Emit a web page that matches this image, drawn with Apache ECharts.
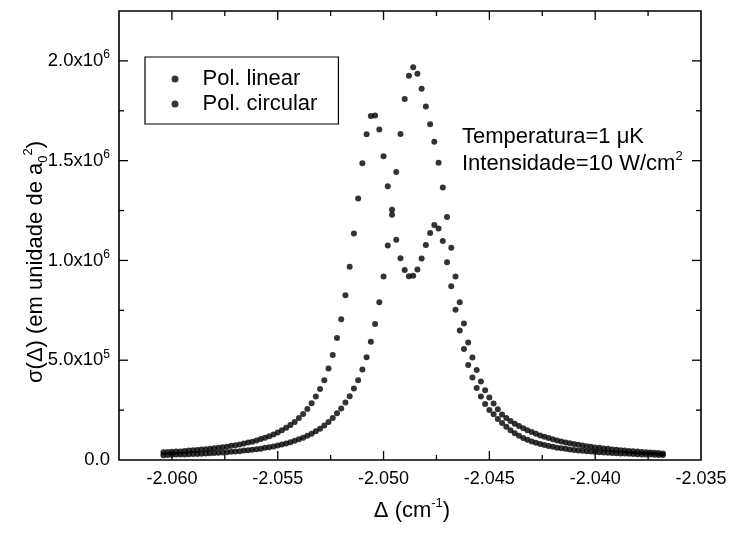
<!DOCTYPE html>
<html>
<head>
<meta charset="utf-8">
<script src="https://cdn.jsdelivr.net/npm/echarts@6/dist/echarts.min.js"></script>
<style>
  html, body { margin: 0; padding: 0; background: #fff; }
  #chart { width: 733px; height: 533px; }
</style>
</head>
<body>
<div id="chart"></div>
<script>
// Detuning grid Δ (cm^-1), shared by both polarizations
const delta = [
  -2.0604,-2.0602,-2.0600,-2.0598,-2.0596,-2.0594,-2.0592,-2.0590,-2.0588,-2.0586,
  -2.0584,-2.0582,-2.0580,-2.0578,-2.0576,-2.0574,-2.0572,-2.0570,-2.0568,-2.0566,
  -2.0564,-2.0562,-2.0560,-2.0558,-2.0556,-2.0554,-2.0552,-2.0550,-2.0548,-2.0546,
  -2.0544,-2.0542,-2.0540,-2.0538,-2.0536,-2.0534,-2.0532,-2.0530,-2.0528,-2.0526,
  -2.0524,-2.0522,-2.0520,-2.0518,-2.0516,-2.0514,-2.0512,-2.0510,-2.0508,-2.0506,
  -2.0504,-2.0502,-2.0500,-2.0498,-2.0496,-2.0494,-2.0492,-2.0490,-2.0488,-2.0486,
  -2.0484,-2.0482,-2.0480,-2.0478,-2.0476,-2.0474,-2.0472,-2.0470,-2.0468,-2.0466,
  -2.0464,-2.0462,-2.0460,-2.0458,-2.0456,-2.0454,-2.0452,-2.0450,-2.0448,-2.0446,
  -2.0444,-2.0442,-2.0440,-2.0438,-2.0436,-2.0434,-2.0432,-2.0430,-2.0428,-2.0426,
  -2.0424,-2.0422,-2.0420,-2.0418,-2.0416,-2.0414,-2.0412,-2.0410,-2.0408,-2.0406,
  -2.0404,-2.0402,-2.0400,-2.0398,-2.0396,-2.0394,-2.0392,-2.0390,-2.0388,-2.0386,
  -2.0384,-2.0382,-2.0380,-2.0378,-2.0376,-2.0374,-2.0372,-2.0370,-2.0368
];

// Cross section σ(Δ), in units of 10^6 a0^2 — linear polarization (two peaks)
const sigmaLinear = [
  0.039,0.040,0.041,0.042,0.043,0.045,0.047,0.049,0.050,0.052,
  0.054,0.056,0.059,0.061,0.064,0.067,0.071,0.074,0.078,0.083,
  0.088,0.092,0.098,0.105,0.112,0.119,0.128,0.138,0.149,0.161,
  0.175,0.191,0.210,0.230,0.255,0.284,0.318,0.356,0.400,0.459,
  0.526,0.611,0.705,0.826,0.968,1.135,1.310,1.487,1.632,1.724,
  1.726,1.656,1.522,1.372,1.229,1.104,1.011,0.952,0.921,0.923,
  0.955,1.010,1.077,1.137,1.177,1.160,1.097,0.991,0.871,0.753,
  0.649,0.556,0.476,0.414,0.361,0.318,0.280,0.251,0.229,0.206,
  0.185,0.166,0.149,0.134,0.121,0.110,0.101,0.093,0.086,0.080,
  0.075,0.070,0.066,0.062,0.059,0.056,0.053,0.050,0.048,0.046,
  0.044,0.042,0.040,0.039,0.037,0.036,0.035,0.034,0.033,0.032,
  0.031,0.030,0.029,0.028,0.027,0.027,0.026,0.025,0.025
];

// Cross section σ(Δ), in units of 10^6 a0^2 — circular polarization (single peak)
const sigmaCircular = [
  0.024,0.025,0.026,0.027,0.027,0.028,0.029,0.030,0.030,0.031,
  0.032,0.034,0.035,0.036,0.037,0.039,0.041,0.042,0.044,0.047,
  0.049,0.051,0.054,0.057,0.061,0.064,0.068,0.073,0.078,0.083,
  0.089,0.096,0.104,0.111,0.121,0.132,0.144,0.157,0.173,0.190,
  0.210,0.234,0.258,0.288,0.319,0.358,0.400,0.453,0.515,0.592,
  0.681,0.790,0.920,1.075,1.254,1.443,1.634,1.809,1.925,1.968,
  1.935,1.860,1.771,1.682,1.595,1.489,1.366,1.218,1.063,0.919,
  0.791,0.684,0.589,0.514,0.451,0.393,0.350,0.313,0.283,0.254,
  0.228,0.211,0.196,0.182,0.170,0.159,0.149,0.140,0.131,0.123,
  0.116,0.110,0.104,0.098,0.093,0.088,0.084,0.080,0.076,0.073,
  0.069,0.066,0.063,0.061,0.058,0.056,0.053,0.051,0.049,0.047,
  0.045,0.044,0.042,0.040,0.039,0.037,0.036,0.035,0.033
];
const SIGMA_UNIT = 1e6;

const seriesNames = ['Pol. linear', 'Pol. circular'];

// Axis ranges and tick values
const xRange = [-2.0625, -2.035];
const yRange = [0, 2.25e6];
const xMajorTicks = [-2.060, -2.055, -2.050, -2.045, -2.040];
const xMinorTicks = [-2.0575, -2.0525, -2.0475, -2.0425, -2.0375];
const yMajorTicks = [0.5e6, 1.0e6, 1.5e6, 2.0e6];
const yMinorTicks = [0.25e6, 0.75e6, 1.25e6, 1.75e6];

const FONT = '"Liberation Sans", Arial, Helvetica, sans-serif';

function pairs(xs, ys) {
  return xs.map((x, i) => [x, ys[i] * SIGMA_UNIT]);
}

// Inward ticks on both sides of the frame
function xTickRenderer(len) {
  return function (params, api) {
    const cs = params.coordSys;
    const x = api.coord([api.value(0), 0])[0];
    const bottom = cs.y + cs.height;
    const st = { stroke: '#000', lineWidth: 1.3 };
    return {
      type: 'group',
      children: [
        { type: 'line', shape: { x1: x, y1: bottom, x2: x, y2: bottom - len }, style: st },
        { type: 'line', shape: { x1: x, y1: cs.y, x2: x, y2: cs.y + len }, style: st }
      ]
    };
  };
}
function yTickRenderer(len) {
  return function (params, api) {
    const cs = params.coordSys;
    const y = api.coord([xRange[0], api.value(1)])[1];
    const right = cs.x + cs.width;
    const st = { stroke: '#000', lineWidth: 1.3 };
    return {
      type: 'group',
      children: [
        { type: 'line', shape: { x1: cs.x, y1: y, x2: cs.x + len, y2: y }, style: st },
        { type: 'line', shape: { x1: right, y1: y, x2: right - len, y2: y }, style: st }
      ]
    };
  };
}
function tickSeries(data, renderer) {
  return {
    type: 'custom', silent: true, z: 5, animation: false,
    renderItem: renderer, data: data, encode: { x: 0, y: 1 }
  };
}

const SUPERSCRIPT = { fontSize: 12, lineHeight: 12, verticalAlign: 'top', fontFamily: FONT, color: '#000' };

const chart = echarts.init(document.getElementById('chart'), null, { renderer: 'canvas' });

chart.setOption({
  animation: false,
  backgroundColor: '#fff',
  textStyle: { fontFamily: FONT, color: '#000' },
  grid: {
    left: 119, right: 32, top: 11, bottom: 73,
    show: true, borderColor: '#000', borderWidth: 1.6, backgroundColor: 'transparent'
  },
  legend: {
    orient: 'vertical',
    left: 145, top: 57,
    data: seriesNames,
    icon: 'circle',
    itemWidth: 45, itemHeight: 7, itemGap: 3,
    padding: [11, 21, 9, 26.5],
    borderColor: '#000', borderWidth: 1.2,
    selectedMode: false,
    textStyle: { fontSize: 22, fontFamily: FONT, color: '#000' }
  },
  xAxis: {
    type: 'value',
    min: xRange[0], max: xRange[1], interval: 0.0025,
    axisLine: { show: false },
    axisTick: { show: false },
    splitLine: { show: false },
    axisLabel: {
      margin: 10,
      fontSize: 18, color: '#000', fontFamily: FONT,
      showMinLabel: true, showMaxLabel: true,
      formatter: function (v) {
        const k = v * 200;
        return Math.abs(k - Math.round(k)) < 1e-6 ? v.toFixed(3) : '';
      }
    }
  },
  yAxis: {
    type: 'value',
    min: yRange[0], max: yRange[1], interval: 2.5e5,
    axisLine: { show: false },
    axisTick: { show: false },
    splitLine: { show: false },
    axisLabel: {
      margin: 9,
      color: '#000',
      formatter: function (v) {
        const k = v / 5e5;
        if (Math.abs(k - Math.round(k)) > 1e-6) return '';
        if (v === 0) return '{m|0.0}';
        const e = Math.floor(Math.log10(v) + 1e-9);
        const m = v / Math.pow(10, e);
        return '{m|' + m.toFixed(1) + 'x10}{e|' + e + '}';
      },
      rich: {
        m: { fontSize: 18.5, lineHeight: 24, fontFamily: FONT, color: '#000' },
        e: SUPERSCRIPT
      }
    }
  },
  graphic: [
    {
      type: 'text', x: 36, y: 262, rotation: Math.PI / 2,
      style: {
        text: 'σ(Δ) (em unidade de a{sb|0}{sp|2})',
        fontSize: 22, lineHeight: 28, fontFamily: FONT, fill: '#000',
        align: 'center', verticalAlign: 'middle',
        rich: {
          sb: { fontSize: 13, lineHeight: 13, verticalAlign: 'bottom', fontFamily: FONT, color: '#000' },
          sp: { fontSize: 13, lineHeight: 13, verticalAlign: 'top', fontFamily: FONT, color: '#000' }
        }
      }
    },
    {
      type: 'text', x: 412, y: 511,
      style: {
        text: 'Δ (cm{sp|-1})',
        fontSize: 22, lineHeight: 28, fontFamily: FONT, fill: '#000',
        align: 'center', verticalAlign: 'middle',
        rich: {
          sp: { fontSize: 13, lineHeight: 13, verticalAlign: 'top', fontFamily: FONT, color: '#000' }
        }
      }
    },
    {
      type: 'text', x: 462, y: 137,
      style: {
        text: 'Temperatura=1 μK',
        fontSize: 22, fontFamily: FONT, fill: '#000',
        align: 'left', verticalAlign: 'middle'
      }
    },
    {
      type: 'text', x: 462, y: 164,
      style: {
        text: 'Intensidade=10 W/cm{sp|2}',
        fontSize: 22, lineHeight: 28, fontFamily: FONT, fill: '#000',
        align: 'left', verticalAlign: 'middle',
        rich: {
          sp: { fontSize: 13, lineHeight: 13, verticalAlign: 'top', fontFamily: FONT, color: '#000' }
        }
      }
    }
  ],
  series: [
    {
      name: seriesNames[0], type: 'scatter',
      symbol: 'circle', symbolSize: 6,
      itemStyle: { color: '#000' },
      data: pairs(delta, sigmaLinear), z: 3
    },
    {
      name: seriesNames[1], type: 'scatter',
      symbol: 'circle', symbolSize: 6,
      itemStyle: { color: '#000' },
      data: pairs(delta, sigmaCircular), z: 3
    },
    tickSeries(xMajorTicks.map(v => [v, 0]), xTickRenderer(9)),
    tickSeries(xMinorTicks.map(v => [v, 0]), xTickRenderer(5)),
    tickSeries(yMajorTicks.map(v => [xRange[0], v]), yTickRenderer(9)),
    tickSeries(yMinorTicks.map(v => [xRange[0], v]), yTickRenderer(5))
  ]
});
</script>
</body>
</html>
